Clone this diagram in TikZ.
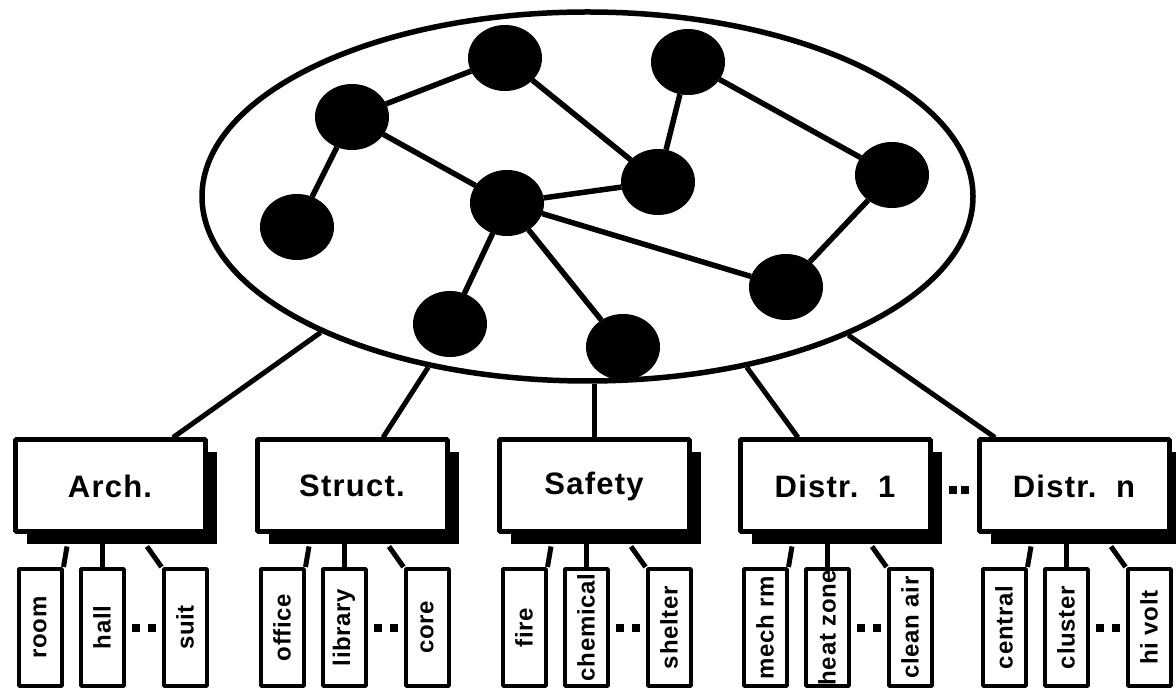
\documentclass[tikz,border=0pt]{standalone}
\usepackage{fontspec}
\setmainfont{Liberation Sans}
\newfontfamily\boxfont[LetterSpace=4]{Liberation Sans}
\newfontfamily\leaffont[LetterSpace=3]{Liberation Sans}
\usepackage{graphicx}
\usepackage{tikz}
\usetikzlibrary{arrows,shapes,shadows}

\begin{document}
\begin{tikzpicture}[line join=bevel,
  net/.style={draw,ellipse,line width=5.5bp,minimum width=771bp,minimum height=369bp,inner sep=0pt},
  netnode/.style={draw,ellipse,fill=black,line width=1bp,minimum width=73bp,minimum height=65bp,inner sep=0pt},
  netedge/.style={line width=5.5bp},
  groupbox/.style={draw,rectangle,fill=white,line width=5bp,minimum width=190bp,minimum height=92bp,inner sep=0pt,
    drop shadow={shadow xshift=12bp,shadow yshift=-12bp,fill=black,opacity=1},
    font=\boxfont\bfseries\fontsize{31bp}{36bp}\selectfont},
  leafbox/.style={draw,rectangle,fill=white,line width=4bp,minimum width=43bp,minimum height=117bp,inner sep=0pt,
    font=\leaffont\bfseries\fontsize{24bp}{28bp}\selectfont},
  gapdot/.style={fill=black,rectangle,minimum size=8bp,inner sep=0pt},
  link/.style={line width=5bp},
]
%%
\begin{scope}
  \fill [white] (0.0bp,0.0bp) rectangle (1176.0bp,688.0bp);
\end{scope}
\useasboundingbox (0.0bp,0.0bp) rectangle (1176.0bp,688.0bp);
%% network
  \node (net) at (587.5bp,491.5bp) [net] {};
  \node (n1) at (352.0bp,571.0bp) [netnode] {};
  \node (n2) at (505.0bp,630.0bp) [netnode] {};
  \node (n3) at (688.0bp,626.0bp) [netnode] {};
  \node (n4) at (297.0bp,461.0bp) [netnode] {};
  \node (n5) at (507.0bp,485.0bp) [netnode] {};
  \node (n6) at (658.0bp,506.0bp) [netnode] {};
  \node (n7) at (892.0bp,513.0bp) [netnode] {};
  \node (n8) at (786.0bp,401.0bp) [netnode] {};
  \node (n9) at (450.0bp,364.0bp) [netnode] {};
  \node (n10) at (623.0bp,341.0bp) [netnode] {};
  \draw [netedge] (n1) -- (n2);
  \draw [netedge] (n1) -- (n4);
  \draw [netedge] (n1) -- (n5);
  \draw [netedge] (n2) -- (n6);
  \draw [netedge] (n3) -- (n6);
  \draw [netedge] (n3) -- (n7);
  \draw [netedge] (n5) -- (n6);
  \draw [netedge] (n5) -- (n8);
  \draw [netedge] (n5) -- (n9);
  \draw [netedge] (n5) -- (n10);
  \draw [netedge] (n7) -- (n8);
%% groups
  \node (arch) at (110.0bp,202.0bp) [groupbox] {Arch.};
  \node (struct) at (352.0bp,202.0bp) [groupbox] {Struct.};
  \node (safety) at (594.0bp,202.0bp) [groupbox] {Safety};
  \node (distrA) at (835.0bp,202.0bp) [groupbox] {Distr.\ \ 1};
  \node (distrN) at (1074.0bp,202.0bp) [groupbox] {Distr.\ \ n};
  \node (midA) at (953.0bp,198.0bp) [gapdot] {};
  \node (midB) at (965.0bp,198.0bp) [gapdot] {};
  \draw [link] (net.207.8) -- ([xshift=63bp]arch.north);
  \draw [link] (net.227.1) -- ([xshift=31bp]struct.north);
  \draw [link] (net.272.5) -- (net.272.5 |- safety.north);
  \draw [link] (net.-47.4) -- ([xshift=-37bp]distrA.north);
  \draw [link] (net.-28.6) -- ([xshift=-79bp]distrN.north);
%% leaves
  \node (room) at (40.0bp,60.5bp) [leafbox] {\rotatebox{90}{room}};
  \node (hall) at (102.0bp,60.5bp) [leafbox] {\rotatebox{90}{hall}};
  \node (suit) at (185.0bp,60.5bp) [leafbox] {\rotatebox{90}{suit}};
  \node (archdotA) at (136.0bp,59.5bp) [gapdot] {};
  \node (archdotB) at (152.0bp,59.5bp) [gapdot] {};
  \node (office) at (282.0bp,60.5bp) [leafbox] {\rotatebox{90}{office}};
  \node (library) at (344.0bp,60.5bp) [leafbox] {\rotatebox{90}{library}};
  \node (core) at (427.0bp,60.5bp) [leafbox] {\rotatebox{90}{core}};
  \node (structdotA) at (378.0bp,59.5bp) [gapdot] {};
  \node (structdotB) at (394.0bp,59.5bp) [gapdot] {};
  \node (fire) at (524.0bp,60.5bp) [leafbox] {\rotatebox{90}{fire}};
  \node (chemical) at (586.0bp,60.5bp) [leafbox] {\rotatebox{90}{chemical}};
  \node (shelter) at (669.0bp,60.5bp) [leafbox] {\rotatebox{90}{shelter}};
  \node (safetydotA) at (620.0bp,59.5bp) [gapdot] {};
  \node (safetydotB) at (636.0bp,59.5bp) [gapdot] {};
  \node (mechrm) at (765.0bp,60.5bp) [leafbox] {\rotatebox{90}{mech rm}};
  \node (heatzone) at (827.0bp,60.5bp) [leafbox] {\rotatebox{90}{heat zone}};
  \node (cleanair) at (910.0bp,60.5bp) [leafbox] {\rotatebox{90}{clean air}};
  \node (distrAdotA) at (861.0bp,59.5bp) [gapdot] {};
  \node (distrAdotB) at (877.0bp,59.5bp) [gapdot] {};
  \node (central) at (1004.0bp,60.5bp) [leafbox] {\rotatebox{90}{central}};
  \node (cluster) at (1066.0bp,60.5bp) [leafbox] {\rotatebox{90}{cluster}};
  \node (hivolt) at (1149.0bp,60.5bp) [leafbox] {\rotatebox{90}{hi volt}};
  \node (distrNdotA) at (1100.0bp,59.5bp) [gapdot] {};
  \node (distrNdotB) at (1116.0bp,59.5bp) [gapdot] {};
%
  \draw [link] (room.north east) -- ([xshift=-43bp,yshift=-12bp]arch.south);
  \draw [link] (hall.north) -- (hall.north |- arch.south);
  \draw [link] (suit.north west) -- ([xshift=37bp,yshift=-12bp]arch.south);
  \draw [link] (office.north east) -- ([xshift=-43bp,yshift=-12bp]struct.south);
  \draw [link] (library.north) -- (library.north |- struct.south);
  \draw [link] (core.north west) -- ([xshift=37bp,yshift=-12bp]struct.south);
  \draw [link] (fire.north east) -- ([xshift=-43bp,yshift=-12bp]safety.south);
  \draw [link] (chemical.north) -- (chemical.north |- safety.south);
  \draw [link] (shelter.north west) -- ([xshift=37bp,yshift=-12bp]safety.south);
  \draw [link] (mechrm.north east) -- ([xshift=-43bp,yshift=-12bp]distrA.south);
  \draw [link] (heatzone.north) -- (heatzone.north |- distrA.south);
  \draw [link] (cleanair.north west) -- ([xshift=37bp,yshift=-12bp]distrA.south);
  \draw [link] (central.north east) -- ([xshift=-43bp,yshift=-12bp]distrN.south);
  \draw [link] (cluster.north) -- (cluster.north |- distrN.south);
  \draw [link] (hivolt.north west) -- ([xshift=37bp,yshift=-12bp]distrN.south);
%
\end{tikzpicture}
\end{document}
